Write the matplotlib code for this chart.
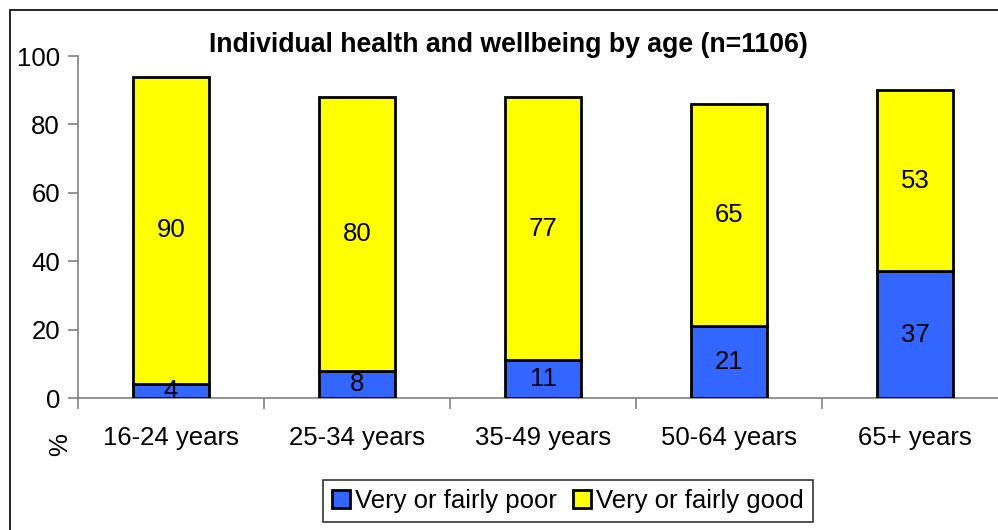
import numpy as np
import matplotlib
matplotlib.use("Agg")
import matplotlib.pyplot as plt
from matplotlib.patches import Rectangle

categories = ["16-24 years", "25-34 years", "35-49 years", "50-64 years", "65+ years"]
poor = [4, 8, 11, 21, 37]
good = [90, 80, 77, 65, 53]
yticks = [0, 20, 40, 60, 80, 100]

plt.rcParams['font.family'] = ['Liberation Sans', 'DejaVu Sans']

W, H = 998, 530
fig = plt.figure(figsize=(W / 100, H / 100), dpi=100)

# outer chart border (runs off the right/bottom edge like the original)
fig.patches.append(Rectangle((10 / W, -0.1), 1.2, 1 - 10 / H + 0.1, transform=fig.transFigure,
                             fill=False, edgecolor='black', linewidth=1.2))

ax = fig.add_axes([78 / W, 1 - 398 / H, 930 / W, 342 / H])
x = np.arange(len(categories))
width = 0.41
b1 = ax.bar(x, poor, width, color='#3366FF', edgecolor='black', linewidth=2,
            label='Very or fairly poor', zorder=3)
b2 = ax.bar(x, good, width, bottom=poor, color='#FFFF00', edgecolor='black', linewidth=2,
            label='Very or fairly good', zorder=3)

for i in range(len(categories)):
    ax.text(x[i], poor[i] / 2, str(poor[i]), ha='center', va='center', fontsize=18.5, zorder=4)
    ax.text(x[i], poor[i] + good[i] / 2, str(good[i]), ha='center', va='center', fontsize=18.5, zorder=4)

ax.set_xlim(-0.5, len(categories) - 0.5)
ax.set_ylim(0, 100)
ax.set_yticks(yticks)
ax.tick_params(axis='y', labelsize=18.5, length=7, color='#808080', width=1.2, pad=6)

# category labels between boundary ticks
ax.set_xticks(np.arange(len(categories) + 1) - 0.5)
ax.set_xticklabels([])
ax.set_xticks(x, minor=True)
ax.set_xticklabels(categories, minor=True)
ax.tick_params(axis='x', which='major', length=8, color='#808080', width=1.2, direction='out')
ax.tick_params(axis='x', which='minor', length=0, labelsize=18.5, pad=20)

for s in ['top', 'right']:
    ax.spines[s].set_visible(False)
for s in ['left', 'bottom']:
    ax.spines[s].set_color('#808080')
    ax.spines[s].set_linewidth(1.2)

fig.text(508 / W, 1 - 45 / H, "Individual health and wellbeing by age (n=1106)",
         ha='center', va='center', fontsize=19.2, fontweight='bold')
fig.text(60 / W, 1 - 445 / H, "%", rotation=90, ha='center', va='center', fontsize=18.5)

leg = fig.legend(handles=[b1, b2], loc='center', bbox_to_anchor=(568 / W, 1 - 501 / H),
                 ncol=2, fontsize=18.5, frameon=True, fancybox=False, edgecolor='black',
                 handlelength=0.7, handleheight=0.7, handletextpad=0.2, columnspacing=0.6,
                 borderpad=0.35, borderaxespad=0)
leg.get_frame().set_linewidth(1.2)

fig.savefig("out.png", dpi=100)
